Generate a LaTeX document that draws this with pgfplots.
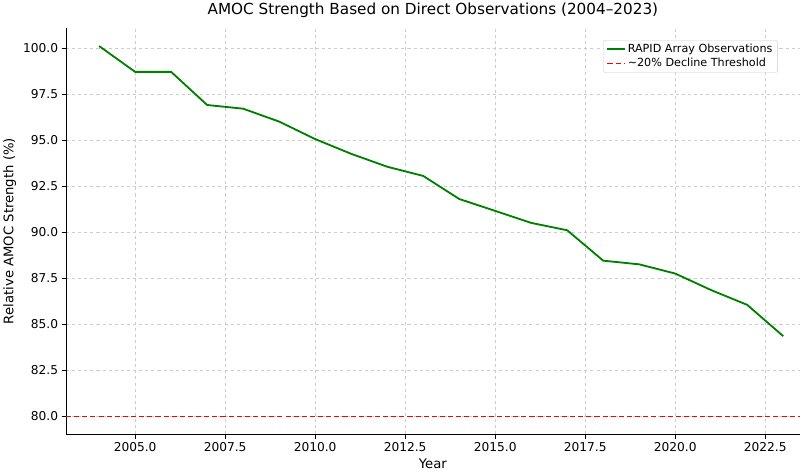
\documentclass[border=0pt]{standalone}
\usepackage{pgfplots}
\pgfplotsset{compat=1.18}
\usepackage{fontspec}
\setmainfont{DejaVu Sans}
\begin{document}
\begin{tikzpicture}
\begin{axis}[
  scale only axis, width=722pt, height=400pt,
  xmin=2003.08, xmax=2023.46, ymin=79.02, ymax=101.09,
  axis lines*=left, axis line style={black},
  xtick={2005,2007.5,...,2022.5}, ytick={80,82.5,...,100},
  tick label style={font=\fontsize{12}{14}\selectfont, /pgf/number format/fixed, /pgf/number format/fixed zerofill, /pgf/number format/precision=1, /pgf/number format/1000 sep={}, /pgf/number format/assume math mode=true},
  grid=major, major grid style={gray!40, dashed},
  tick align=outside, tick style={black},
  xlabel={Year}, ylabel={Relative AMOC Strength (\%)},
  label style={font=\fontsize{13}{15}\selectfont},
  title={AMOC Strength Based on Direct Observations (2004–2023)},
  title style={font=\fontsize{15}{18}\selectfont},
  legend pos=north east,
  legend style={font=\fontsize{11}{13}\selectfont, draw=gray!40, rounded corners=2pt},
  legend cell align=left,
]
\addplot[color={rgb,255:red,0;green,128;blue,0}, line width=1.8pt] coordinates {
(2004,100.1)(2005,98.7)(2006,98.7)(2007,96.9)(2008,96.7)(2009,96.0)(2010,95.05)
(2011,94.25)(2012,93.55)(2013,93.05)(2014,91.8)(2015,91.15)(2016,90.5)(2017,90.1)
(2018,88.45)(2019,88.25)(2020,87.75)(2021,86.85)(2022,86.05)(2023,84.35)};
\addlegendentry{RAPID Array Observations}
\addplot[color=red, dash pattern=on 5pt off 3pt, line width=1.4pt] coordinates {(2003.08,80)(2023.46,80)};
\addlegendentry{\textasciitilde20\% Decline Threshold}
\end{axis}
\end{tikzpicture}
\end{document}
